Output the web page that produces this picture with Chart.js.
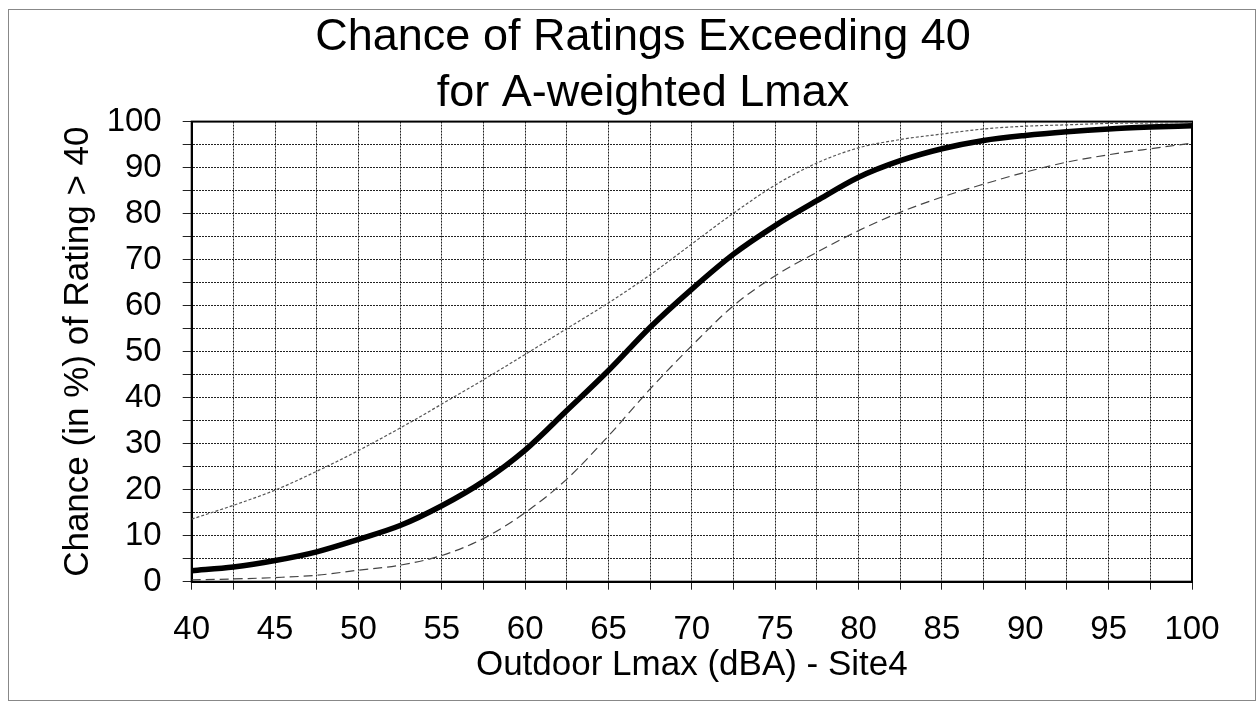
<!DOCTYPE html>
<html>
<head>
<meta charset="utf-8">
<script src="https://cdn.jsdelivr.net/npm/chart.js@4.4.1/dist/chart.umd.min.js"></script>
<style>
  body { margin: 0; background: #fff; }
  #wrap { width: 1260px; height: 709px; }
</style>
</head>
<body>
<div id="wrap"><canvas id="chart" width="1260" height="709"></canvas></div>
<script>
// Outdoor Lmax (dBA), every 2.5 dB
const levels = [40, 42.5, 45, 47.5, 50, 52.5, 55, 57.5, 60, 62.5, 65, 67.5, 70,
  72.5, 75, 77.5, 80, 82.5, 85, 87.5, 90, 92.5, 95, 97.5, 100];

// chance (%) of rating > 40 : fitted curve and the two bounds
const chanceFit = [2.4, 3.2, 4.6, 6.5, 9.2, 12.2, 16.5, 21.8, 28.6, 37.2, 45.9, 55.3, 63.6,
  71.2, 77.4, 82.8, 87.9, 91.5, 94.1, 95.9, 97.0, 97.8, 98.4, 98.8, 99.1];
const chanceUpper = [13.6, 16.6, 19.9, 24.0, 28.5, 33.4, 38.6, 43.9, 49.4, 55.0, 60.6, 66.7, 73.4,
  80.1, 86.2, 91.0, 94.3, 96.1, 97.3, 98.4, 99.0, 99.3, 99.6, 99.7, 99.8];
const chanceLower = [0.4, 0.6, 0.9, 1.4, 2.5, 3.6, 5.7, 9.4, 15.0, 22.3, 31.7, 41.9, 51.3,
  60.0, 66.5, 71.6, 76.3, 80.3, 83.6, 86.4, 89.0, 91.2, 92.8, 94.1, 95.3];

const xTickLabels = [40, 45, 50, 55, 60, 65, 70, 75, 80, 85, 90, 95, 100];
const yTickLabels = [0, 10, 20, 30, 40, 50, 60, 70, 80, 90, 100];

const FONT = '"Liberation Sans", Arial, Helvetica, sans-serif';

const toPoints = arr => arr.map((v, i) => ({ x: levels[i], y: v }));

// white page, outer frame and the box round the plot
const frames = {
  id: 'frames',
  beforeDraw(chart) {
    const c = chart.ctx;
    c.save();
    c.fillStyle = '#fff';
    c.fillRect(0, 0, chart.width, chart.height);
    c.strokeStyle = '#888';
    c.lineWidth = 1;
    c.strokeRect(8.5, 9.5, 1247, 691);
    c.restore();
  },
  beforeDatasetsDraw(chart) {
    const a = chart.chartArea;
    const c = chart.ctx;
    c.save();
    c.strokeStyle = '#000';
    c.lineWidth = 2;
    c.strokeRect(a.left, a.top, a.right - a.left, a.bottom - a.top);
    c.restore();
  }
};

new Chart(document.getElementById('chart'), {
  type: 'line',
  data: {
    datasets: [
      {
        label: 'upper',
        data: toPoints(chanceUpper),
        borderColor: '#555',
        borderWidth: 1.2,
        borderDash: [3, 2],
        pointRadius: 0,
        cubicInterpolationMode: 'monotone'
      },
      {
        label: 'lower',
        data: toPoints(chanceLower),
        borderColor: '#444',
        borderWidth: 1.2,
        borderDash: [9, 5],
        pointRadius: 0,
        cubicInterpolationMode: 'monotone'
      },
      {
        label: 'fit',
        data: toPoints(chanceFit),
        borderColor: '#000',
        borderWidth: 5.5,
        pointRadius: 0,
        cubicInterpolationMode: 'monotone'
      }
    ]
  },
  options: {
    responsive: false,
    animation: false,
    layout: { padding: { left: 40, right: 14, top: 0, bottom: 20 } },
    plugins: {
      legend: { display: false },
      tooltip: { enabled: false },
      title: {
        display: true,
        text: ['Chance of Ratings Exceeding 40', 'for A-weighted Lmax'],
        color: '#000',
        font: { family: FONT, size: 45, weight: 'normal', lineHeight: 1.24 },
        padding: { top: 10, bottom: 0 }
      }
    },
    scales: {
      x: {
        type: 'linear',
        min: 40,
        max: 100,
        afterFit(s) { s.height = 107.3; },
        ticks: {
          stepSize: 2.5,
          autoSkip: false,
          maxRotation: 0,
          padding: 20,
          color: '#000',
          font: { family: FONT, size: 33 },
          callback: v => xTickLabels.includes(v) ? String(v) : ''
        },
        grid: { color: '#222', lineWidth: 1, tickLength: 8, tickColor: '#222' },
        border: { color: '#000', width: 2, dash: [2, 1] },
        title: {
          display: true,
          text: 'Outdoor Lmax (dBA) - Site4',
          color: '#000',
          font: { family: FONT, size: 35, lineHeight: 1.2 },
          padding: { top: 0, bottom: 3 }
        }
      },
      y: {
        min: 0,
        max: 100,
        afterFit(s) { s.width = 151.7; },
        ticks: {
          stepSize: 5,
          autoSkip: false,
          padding: 21,
          color: '#000',
          font: { family: FONT, size: 33 },
          callback: v => yTickLabels.includes(v) ? String(v) : ''
        },
        grid: { color: '#222', lineWidth: 1, tickLength: 9, tickColor: '#222' },
        border: { color: '#000', width: 2, dash: [2, 1] },
        title: {
          display: true,
          text: 'Chance (in %) of Rating > 40',
          color: '#000',
          font: { family: FONT, size: 35, lineHeight: 1.2 },
          padding: { top: 17, bottom: 0 }
        }
      },
      yRight: {
        position: 'right',
        min: 0,
        max: 100,
        afterFit(s) { s.width = 54; },
        ticks: { display: false },
        grid: { display: false },
        border: { display: false }
      }
    }
  },
  plugins: [frames]
});
</script>
</body>
</html>
